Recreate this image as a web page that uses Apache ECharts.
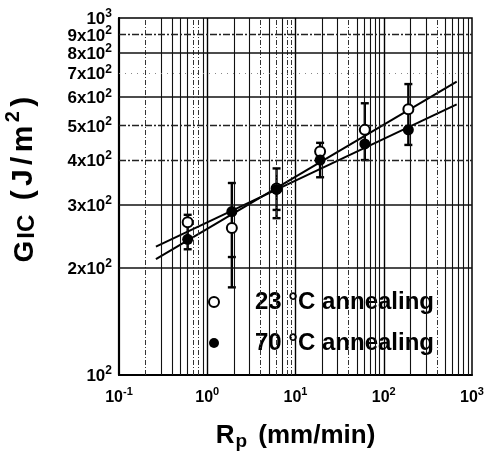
<!DOCTYPE html>
<html>
<head>
<meta charset="utf-8">
<script src="https://cdn.jsdelivr.net/npm/echarts@6/dist/echarts.min.js"></script>
<style>html,body{margin:0;padding:0;background:#fff;}#c{width:488px;height:452px;}</style>
</head>
<body>
<div id="c"></div>
<script>
// ---- data ----
const xTicks = [0.1, 1, 10, 100, 1000];
const yTicksOdd = [100, 300, 500, 700, 900];
const yTicksEven = [200, 400, 600, 800, 1000];
const rp = [0.6, 1.9, 6.1, 19, 61, 190];
const g23 = [268, 258, 333, 423, 486, 555];
const g70 = [240, 287, 331, 400, 444, 486];
const errLow = [225, 176, 275, 358, 400, 441];
const errHigh = [281, 345, 379, 447, 577, 653];
const errMid = [null, 214, 290, null, null, null];
const fitX = [0.262, 671];
const fit23 = [211, 663];
const fit70 = [229, 573];
const xGridSolid = [0.3,0.4,0.5,0.6,0.9,2,3,5,7,20,30,50,60,70,80,90,200,300,500,600,700,800,900];
const xGridDashed = [0.2,0.7,0.8,4,6,8,9,40,400];
const xGridDecade = [1, 10, 100];
const yGridSolid = [200, 300, 600, 800];
const yGridDashDot = [400, 500, 900];
const yGridDotted = [700];

const legendNames = ['23 °C annealing', '70 °C annealing'];

const chart = echarts.init(document.getElementById('c'), null, {renderer: 'canvas'});

function vLines(vals, style) {
  return vals.map(v => ({xAxis: v, lineStyle: style}));
}
function hLines(vals, style) {
  return vals.map(v => ({yAxis: v, lineStyle: style}));
}
const solidV = {color: '#111', width: 1.1, type: 'solid'};
const dashV = {color: '#333', width: 1, type: [5, 2, 1, 2]};
const decV = {color: '#000', width: 1.4, type: 'solid'};
const solidH = {color: '#111', width: 1.5, type: 'solid'};
const dashDotH = {color: '#222', width: 1.3, type: [7, 2, 2, 2]};
const dotH = {color: '#888', width: 1, type: [1, 5]};

const gridMarks = [].concat(
  vLines(xGridSolid, solidV), vLines(xGridDashed, dashV), vLines(xGridDecade, decV),
  hLines(yGridSolid, solidH), hLines(yGridDashDot, dashDotH), hLines(yGridDotted, dotH)
);

const FF = 'Liberation Sans';
const xRich = {
  b: {fontSize: 16, fontWeight: 'bold', color: '#000', fontFamily: FF, lineHeight: 20, verticalAlign: 'bottom'},
  s: {fontSize: 11, fontWeight: 'bold', color: '#000', fontFamily: FF, lineHeight: 20, verticalAlign: 'top'}
};
const yRich = {
  b: {fontSize: 17, fontWeight: 'bold', color: '#000', fontFamily: FF, lineHeight: 20, verticalAlign: 'bottom'},
  s: {fontSize: 12, fontWeight: 'bold', color: '#000', fontFamily: FF, lineHeight: 20, verticalAlign: 'top'}
};
function yFmt(v) {
  const n = Math.round(v);
  if (n === 100) return '{b|10}{s|2}';
  if (n === 1000) return '{b|10}{s|3}';
  return '{b|' + Math.round(n / 100) + 'x10}{s|2}';
}
const wideTok = {fontSize: 30, fontWeight: 'bold', color: '#000', fontFamily: FF, lineHeight: 36, verticalAlign: 'bottom', padding: [0, 2.2, 0, 2.2]};

const errData = rp.map((x, i) => [x, errLow[i], errHigh[i], errMid[i] == null ? '-' : errMid[i]]);

const yBase = {
  type: 'log', logBase: 10, min: 100, max: 1000,
  splitLine: {show: false}, axisTick: {show: false}
};

chart.setOption({
  animation: false,
  backgroundColor: '#fff',
  grid: {left: 119, right: 16, top: 18, bottom: 77, outerBoundsMode: 'none', containLabel: false,
         show: true, borderColor: '#000', borderWidth: 1.5, backgroundColor: 'transparent'},
  xAxis: {
    type: 'log', logBase: 10, min: 0.1, max: 1000,
    splitLine: {show: false}, axisTick: {show: false},
    axisLine: {show: true, onZero: false, lineStyle: {color: '#000', width: 1.8}},
    axisLabel: {
      customValues: xTicks, margin: 11, showMinLabel: true, showMaxLabel: true,
      formatter: function (v) { const e = Math.round(Math.log10(v)); return '{b|10}{s|' + e + '}'; },
      rich: xRich
    },
    name: '{r|R}{p|p}{t| (mm/min)}', nameLocation: 'middle', nameGap: 44,
    nameTextStyle: {
      rich: {
        r: {fontSize: 26, fontWeight: 'bold', color: '#000', fontFamily: FF, lineHeight: 30, verticalAlign: 'bottom'},
        p: {fontSize: 19, fontWeight: 'bold', color: '#000', fontFamily: FF, lineHeight: 30, verticalAlign: 'bottom', padding: [0, 0, -2, 1]},
        t: {fontSize: 26, fontWeight: 'bold', color: '#000', fontFamily: FF, lineHeight: 30, verticalAlign: 'bottom', padding: [0, 0, 0, 4]}
      }
    }
  },
  yAxis: [Object.assign({}, yBase, {
    axisLine: {show: true, onZero: false, lineStyle: {color: '#000', width: 2.2}},
    axisLabel: {customValues: yTicksOdd, margin: 7, showMinLabel: true, showMaxLabel: true, formatter: yFmt, rich: yRich},
    name: '{g|G}{i|IC}{sp|  }{t|(}{t|J}{t|/}{t|m}{s|2}{t|)}', nameLocation: 'middle', nameGap: 80, nameRotate: 90,
    nameTextStyle: {
      padding: [0, 0, 0, 36],
      rich: {
        g: {fontSize: 28, fontWeight: 'bold', color: '#000', fontFamily: FF, lineHeight: 36, verticalAlign: 'bottom', padding: [0, 1, 0, 0]},
        i: {fontSize: 24, fontWeight: 'bold', color: '#000', fontFamily: FF, lineHeight: 36, verticalAlign: 'bottom', padding: [0, 1, 0, 1]},
        sp: {fontSize: 20, fontWeight: 'bold', color: '#000', fontFamily: FF, lineHeight: 36, verticalAlign: 'bottom'},
        t: wideTok,
        s: {fontSize: 20, fontWeight: 'bold', color: '#000', fontFamily: FF, lineHeight: 36, verticalAlign: 'top', padding: [0, 2.2, 0, 1]}
      }
    }
  }), Object.assign({}, yBase, {
    position: 'left', axisLine: {show: false},
    axisLabel: {customValues: yTicksEven, margin: 7, showMinLabel: true, showMaxLabel: true, formatter: yFmt, rich: yRich}
  })],
  legend: {
    data: legendNames, orient: 'vertical', left: 203, top: 285, itemGap: 17,
    itemWidth: 10, itemHeight: 10,
    textStyle: {fontSize: 24, fontWeight: 'bold', color: '#000', fontFamily: FF, padding: [0, 0, 0, 31]},
    selectedMode: false
  },
  series: [
    {
      name: 'grid', type: 'line', data: [], silent: true,
      markLine: {silent: true, symbol: 'none', label: {show: false}, animation: false, data: gridMarks}
    },
    {
      name: 'fit23', type: 'line', data: fitX.map((x, i) => [x, fit23[i]]), symbol: 'none',
      lineStyle: {color: '#000', width: 2}, silent: true, z: 3
    },
    {
      name: 'fit70', type: 'line', data: fitX.map((x, i) => [x, fit70[i]]), symbol: 'none',
      lineStyle: {color: '#000', width: 2}, silent: true, z: 3
    },
    {
      name: 'err', type: 'custom', data: errData, z: 4, silent: true,
      renderItem: function (params, api) {
        const x = api.value(0);
        const pLo = api.coord([x, api.value(1)]);
        const pHi = api.coord([x, api.value(2)]);
        const cw = 4;
        const st = {stroke: '#000', lineWidth: 2.4};
        const children = [
          {type: 'line', shape: {x1: pLo[0], y1: pLo[1], x2: pHi[0], y2: pHi[1]}, style: st},
          {type: 'line', shape: {x1: pLo[0] - cw, y1: pLo[1], x2: pLo[0] + cw, y2: pLo[1]}, style: st},
          {type: 'line', shape: {x1: pHi[0] - cw, y1: pHi[1], x2: pHi[0] + cw, y2: pHi[1]}, style: st}
        ];
        const m = api.value(3);
        if (!isNaN(m)) {
          const pM = api.coord([x, m]);
          children.push({type: 'line', shape: {x1: pM[0] - cw, y1: pM[1], x2: pM[0] + cw, y2: pM[1]}, style: st});
        }
        return {type: 'group', children: children};
      }
    },
    {
      name: legendNames[0], type: 'scatter', data: rp.map((x, i) => [x, g23[i]]),
      symbol: 'circle', symbolSize: 10, z: 5,
      itemStyle: {color: '#fff', borderColor: '#000', borderWidth: 2, opacity: 1}
    },
    {
      name: legendNames[1], type: 'scatter', data: rp.map((x, i) => [x, g70[i]]),
      symbol: 'circle', symbolSize: 11, z: 6,
      itemStyle: {color: '#000', borderColor: '#000', borderWidth: 0, opacity: 1}
    }
  ]
});
</script>
</body>
</html>
